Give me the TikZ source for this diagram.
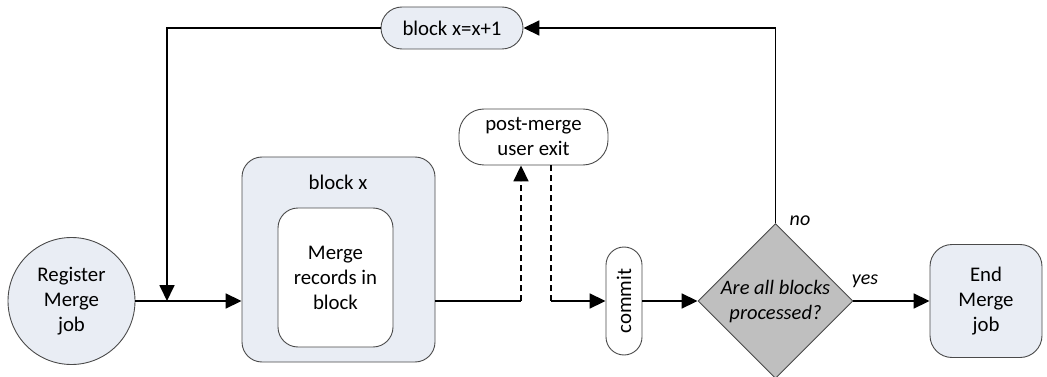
\documentclass[tikz,border=0pt]{standalone}
\usepackage{fontspec}
\setmainfont{Carlito}
\usetikzlibrary{shapes.geometric,arrows.meta}
\definecolor{lightfill}{HTML}{E9EDF4}
\definecolor{diafill}{HTML}{BFBFBF}
\definecolor{border}{HTML}{4A4A4A}
\tikzset{
  shapebox/.style={draw=border, line width=0.9pt, align=center, inner sep=0pt,
    font=\fontsize{20.8}{25}\selectfont},
  conn/.style={line width=1.8pt, -{Triangle[length=16pt,width=15pt]}},
  plainconn/.style={line width=1.8pt},
  dashconn/.style={line width=1.8pt, dash pattern=on 6pt off 4pt},
  lbl/.style={font=\fontsize{20}{25}\selectfont\itshape}
}
\begin{document}
\begin{tikzpicture}[x=1pt,y=-1pt]
\useasboundingbox (0,0) rectangle (1047,377);

\node[shapebox, circle, fill=lightfill, minimum size=127pt] (reg) at (71.5,301) {Register\\Merge\\job};

\node[shapebox, rectangle, rounded corners=20pt, fill=lightfill, minimum width=193pt, minimum height=205pt] (blockx) at (338.5,259.5) {};
\node[font=\fontsize{20.8}{25}\selectfont] (blockxlbl) at (338,182) {block x};
\node[shapebox, rectangle, rounded corners=20pt, fill=white, minimum width=115pt, minimum height=139pt] (inner) at (335.5,277.5) {Merge\\records in\\block};

\node[shapebox, rectangle, rounded corners=21pt, fill=lightfill, minimum width=142pt, minimum height=42pt] (inc) at (452,28) {block x=x+1};

\node[shapebox, rectangle, rounded corners=25pt, fill=white, minimum width=149pt, minimum height=56pt] (post) at (533.5,137) {post-merge\\user exit};

\node[shapebox, rectangle, rounded corners=18pt, fill=white, minimum width=36pt, minimum height=108pt] (commit) at (624,301) {};
\node[font=\fontsize{20.8}{25}\selectfont, rotate=90] (committxt) at (624,301) {commit};

\node[shapebox, diamond, aspect=1, fill=diafill, minimum width=155pt, minimum height=155pt] (dia) at (775.5,301) {};
\node[lbl, align=center, font=\fontsize{20.5}{25}\selectfont\itshape] (diatxt) at (775.5,302) {Are all blocks\\processed?};

\node[shapebox, rectangle, rounded corners=22pt, fill=lightfill, minimum width=112pt, minimum height=113pt] (end) at (986,301) {End\\Merge\\job};

\coordinate (J) at (167,301);
\coordinate (c1) at (521,301);
\coordinate (c2) at (551,301);

\draw[conn] (reg.east) -- (reg.east -| blockx.west);
\draw[conn] (inc.west) -| (J);
\draw[conn] (dia.north) |- (inc.east);
\draw[plainconn] (c1 -| blockx.east) -- (c1);
\draw[dashconn, -{Triangle[length=16pt,width=15pt]}] (c1) -- (c1 |- post.south);
\draw[dashconn] (c2 |- post.south) -- (c2);
\draw[conn] (c2) -- (commit.west);
\draw[conn] (commit.east) -- (dia.west);
\draw[conn] (dia.east) -- (end.west);

\node[lbl] (no) at (800,221) {no};
\node[lbl] (yes) at (865,281) {yes};
\end{tikzpicture}
\end{document}
